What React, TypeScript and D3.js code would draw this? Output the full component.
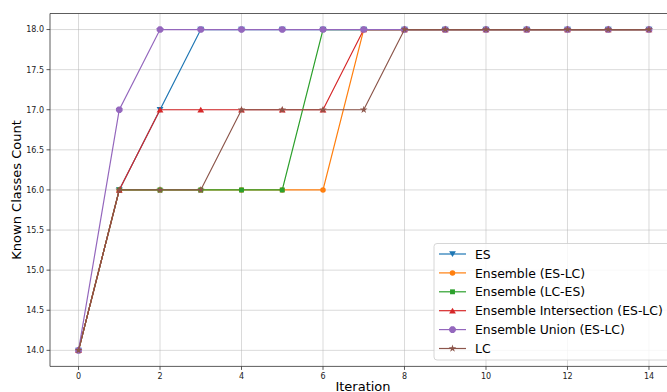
import React from "react";
import * as d3 from "d3";

const iterations = d3.range(0, 15);
const seriesNames = [
  "ES",
  "Ensemble (ES-LC)",
  "Ensemble (LC-ES)",
  "Ensemble Intersection (ES-LC)",
  "Ensemble Union (ES-LC)",
  "LC",
];
const esValues = [14, 16, 17, 18, 18, 18, 18, 18, 18, 18, 18, 18, 18, 18, 18];
const esLcValues = [14, 16, 16, 16, 16, 16, 16, 18, 18, 18, 18, 18, 18, 18, 18];
const lcEsValues = [14, 16, 16, 16, 16, 16, 18, 18, 18, 18, 18, 18, 18, 18, 18];
const intersectionValues = [14, 16, 17, 17, 17, 17, 17, 18, 18, 18, 18, 18, 18, 18, 18];
const unionValues = [14, 17, 18, 18, 18, 18, 18, 18, 18, 18, 18, 18, 18, 18, 18];
const lcValues = [14, 16, 16, 16, 17, 17, 17, 17, 18, 18, 18, 18, 18, 18, 18];
const colors = ["#1f77b4", "#ff7f0e", "#2ca02c", "#d62728", "#9467bd", "#8c564b"];
const xTicks = [0, 2, 4, 6, 8, 10, 12, 14];
const yTicks = [14.0, 14.5, 15.0, 15.5, 16.0, 16.5, 17.0, 17.5, 18.0];

const allValues = [esValues, esLcValues, lcEsValues, intersectionValues, unionValues, lcValues];

const triDown = {
  draw(ctx: any, size: number) {
    const r = Math.sqrt(size) * 0.62;
    ctx.moveTo(-r, -r * 0.8);
    ctx.lineTo(r, -r * 0.8);
    ctx.lineTo(0, r * 0.9);
    ctx.closePath();
  },
};
const triUp = {
  draw(ctx: any, size: number) {
    const r = Math.sqrt(size) * 0.62;
    ctx.moveTo(-r, r * 0.8);
    ctx.lineTo(r, r * 0.8);
    ctx.lineTo(0, -r * 0.9);
    ctx.closePath();
  },
};
const octo = {
  draw(ctx: any, size: number) {
    const r = Math.sqrt(size) * 0.6;
    for (let k = 0; k < 8; k++) {
      const a = (Math.PI / 8) + (k * Math.PI) / 4;
      const px = r * Math.cos(a), py = r * Math.sin(a);
      if (k === 0) ctx.moveTo(px, py); else ctx.lineTo(px, py);
    }
    ctx.closePath();
  },
};
const symbols = [triDown, d3.symbolCircle, d3.symbolSquare, triUp, octo, d3.symbolStar];
const sizes = [30, 24, 24, 30, 36, 18];

const L = 50, T = 13.5, R = 677.5, B = 366.4;

export default function App() {
  const x = d3.scaleLinear().domain([-0.7, 14.7]).range([L, R]);
  const y = d3.scaleLinear().domain([13.8, 18.2]).range([B, T]);
  const line = d3.line<number>().x((_, i) => x(iterations[i])).y((v) => y(v));
  const legendX = 434, legendY = 243.5, rowH = 18.9;
  return (
    <svg width={667} height={392} style={{ position: "absolute", left: 0, top: 0, fontFamily: "DejaVu Sans" }}>
      <rect width={667} height={392} fill="white" />
      <defs>
        <clipPath id="plot"><rect x={L} y={T} width={R - L} height={B - T} /></clipPath>
      </defs>
      {xTicks.map((t) => (
        <line key={"gx" + t} x1={x(t)} x2={x(t)} y1={T} y2={B} stroke="#b0b0b0" strokeOpacity={0.6} strokeWidth={0.8} />
      ))}
      {yTicks.map((t) => (
        <line key={"gy" + t} x1={L} x2={R} y1={y(t)} y2={y(t)} stroke="#b0b0b0" strokeOpacity={0.6} strokeWidth={0.8} />
      ))}
      <g clipPath="url(#plot)">
        {allValues.map((vals, si) => (
          <g key={si}>
            <path d={line(vals) || ""} fill="none" stroke={colors[si]} strokeWidth={1.2} />
            {vals.map((v, i) => (
              <path
                key={i}
                transform={`translate(${x(iterations[i])},${y(v)})`}
                d={d3.symbol(symbols[si] as any, sizes[si])() || ""}
                fill={colors[si]}
              />
            ))}
          </g>
        ))}
      </g>
      <line x1={L} x2={L} y1={T} y2={B} stroke="#333" strokeWidth={0.8} />
      <line x1={L} x2={R} y1={B} y2={B} stroke="#333" strokeWidth={0.8} />
      <line x1={L} x2={R} y1={T} y2={T} stroke="#333" strokeWidth={0.8} />
      {xTicks.map((t) => (
        <g key={"tx" + t}>
          <line x1={x(t)} x2={x(t)} y1={B} y2={B + 3.5} stroke="#333" strokeWidth={0.8} />
          <text x={x(t)} y={B + 12.5} fontSize={8} textAnchor="middle" fill="#222">{t}</text>
        </g>
      ))}
      {yTicks.map((t) => (
        <g key={"ty" + t}>
          <line x1={L - 3.5} x2={L} y1={y(t)} y2={y(t)} stroke="#333" strokeWidth={0.8} />
          <text x={L - 6} y={y(t) + 2.9} fontSize={8} textAnchor="end" fill="#222">{t.toFixed(1)}</text>
        </g>
      ))}
      <text x={363} y={391} fontSize={13} textAnchor="middle" fill="#000">Iteration</text>
      <text transform={`translate(21,${(T + B) / 2}) rotate(-90)`} fontSize={13} textAnchor="middle" fill="#000">Known Classes Count</text>
      <g>
        <rect x={legendX} y={legendY} width={240} height={116.5} rx={3} fill="white" fillOpacity={0.8} stroke="#cccccc" strokeWidth={0.8} />
        {seriesNames.map((name, si) => {
          const cy = legendY + 10.5 + si * rowH;
          return (
            <g key={name}>
              <line x1={legendX + 5} x2={legendX + 32} y1={cy} y2={cy} stroke={colors[si]} strokeWidth={1.2} />
              <path transform={`translate(${legendX + 18.5},${cy})`} d={d3.symbol(symbols[si] as any, sizes[si])() || ""} fill={colors[si]} />
              <text x={legendX + 41} y={cy + 4.6} fontSize={12.4} fill="#000">{name}</text>
            </g>
          );
        })}
      </g>
    </svg>
  );
}
